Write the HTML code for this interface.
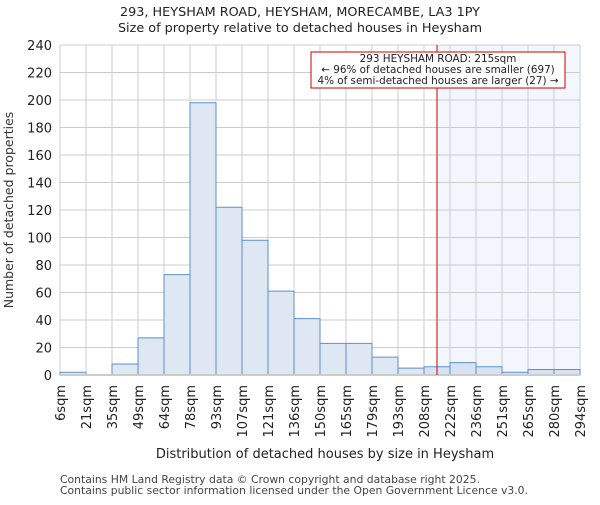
<!DOCTYPE html>
<html><head><meta charset="utf-8"><style>
body{margin:0;background:#fff;}
svg{font-family:"DejaVu Sans","Liberation Sans",sans-serif;}
</style></head><body>
<svg id="chart" width="600" height="500">
<text x="300" y="16" text-anchor="middle" font-size="12.8" fill="#222">293, HEYSHAM ROAD, HEYSHAM, MORECAMBE, LA3 1PY</text>
<text x="300" y="32" text-anchor="middle" font-size="12.8" fill="#222">Size of property relative to detached houses in Heysham</text>
<g id="plot"></g>
<text x="325" y="458" text-anchor="middle" font-size="13" fill="#222">Distribution of detached houses by size in Heysham</text>
<text transform="translate(13,210) rotate(-90)" text-anchor="middle" font-size="12.5" fill="#333">Number of detached properties</text>
<text x="60" y="483" font-size="10.8" fill="#444">Contains HM Land Registry data © Crown copyright and database right 2025.</text>
<text x="60" y="494" font-size="10.8" fill="#444">Contains public sector information licensed under the Open Government Licence v3.0.</text>
</svg>
<script>
const binLabels=["6sqm","21sqm","35sqm","49sqm","64sqm","78sqm","93sqm","107sqm","121sqm","136sqm","150sqm","165sqm","179sqm","193sqm","208sqm","222sqm","236sqm","251sqm","265sqm","280sqm","294sqm"];
const binEdges=[6,21,35,49,64,78,93,107,121,136,150,165,179,193,208,222,236,251,265,280,294];
const counts=[2,0,8,27,73,198,122,98,61,41,23,23,13,5,6,9,6,2,4,4];
const yTicks=[0,20,40,60,80,100,120,140,160,180,200,220,240];
const markerValue=215;
const L=60,R=580,T=45,B=375,yMax=240;
const n=counts.length,bw=(R-L)/n;
const xi=i=>L+i*bw;
const y=v=>B-(v/yMax)*(B-T);
function xv(v){for(let i=0;i<binEdges.length-1;i++){if(v>=binEdges[i]&&v<=binEdges[i+1])return xi(i+(v-binEdges[i])/(binEdges[i+1]-binEdges[i]));}return R;}
const g=document.getElementById('plot');const NS="http://www.w3.org/2000/svg";
function mk(t,a){const e=document.createElementNS(NS,t);for(const k in a)e.setAttribute(k,a[k]);g.appendChild(e);return e;}
const mx=xv(markerValue);
let sh=mk('rect',{x:mx,y:T,width:R-mx,height:B-T,fill:'#f3f6fd'});


yTicks.forEach(t=>{let l=mk('line',{x1:L,x2:R,y1:y(t),y2:y(t),stroke:'#ccc','stroke-width':1});


let tx=mk('text',{x:L-8,y:y(t)+5,'text-anchor':'end','font-size':13,fill:'#222'});tx.textContent=t;

});
binLabels.forEach((s,i)=>{let l=mk('line',{x1:xi(i),x2:xi(i),y1:T,y2:B,stroke:'#ccc','stroke-width':1});


let tx=mk('text',{transform:`translate(${xi(i)+5},${B+10}) rotate(-90)`,'text-anchor':'end','font-size':13,fill:'#222'});tx.textContent=s;

});
counts.forEach((c,i)=>{let r=mk('rect',{x:xi(i),y:y(c),width:bw,height:B-y(c),fill:xi(i)>=mx-bw/2?'#d7e2f3':'#dfe7f3',stroke:'#5a8fd4','stroke-width':1});

});
let ax=mk('line',{x1:L,x2:R,y1:B,y2:B,stroke:'#ccc','stroke-width':2});


let ml=mk('line',{x1:mx,x2:mx,y1:T,y2:B,stroke:'#cc0000','stroke-width':1});


let bx=mk('rect',{x:311,y:52,width:254,height:36,fill:'#fff',stroke:'#cc0000','stroke-width':1});


["293 HEYSHAM ROAD: 215sqm","← 96% of detached houses are smaller (697)","4% of semi-detached houses are larger (27) →"].forEach((s,i)=>{let t=mk('text',{x:438,y:62+i*11,'text-anchor':'middle','font-size':10.4,fill:'#222'});t.textContent=s;

});
</script>
</body></html>
